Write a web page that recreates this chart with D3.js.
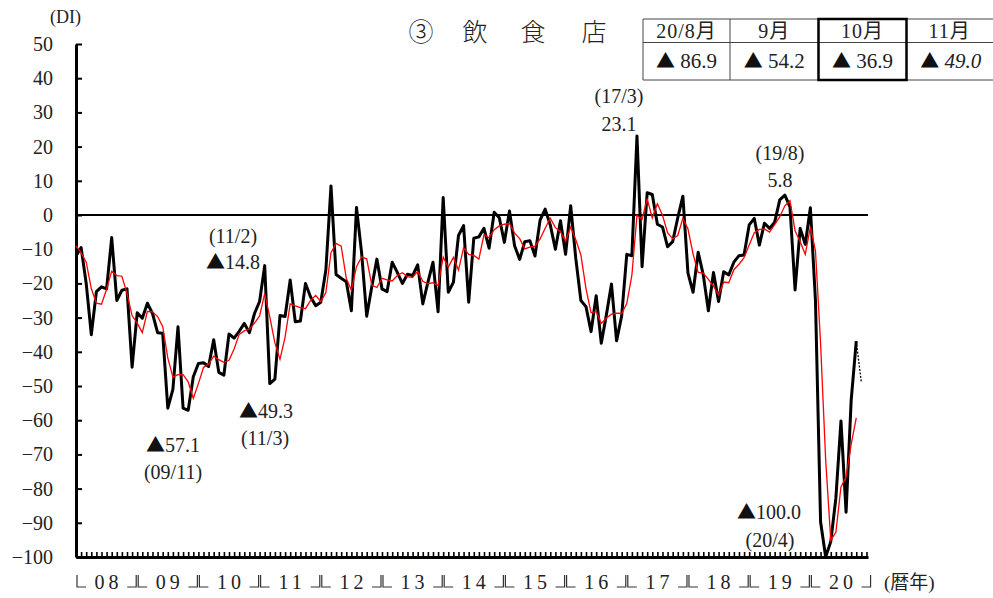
<!DOCTYPE html>
<html><head><meta charset="utf-8">
<script src="https://cdn.jsdelivr.net/npm/d3@7"></script>
<style>
html,body{margin:0;padding:0;background:#fff;}
svg{display:block;}
svg text{font-family:"Liberation Serif","Noto Sans CJK JP",serif;fill:#222;}
</style></head>
<body>
<svg id="chart" width="993" height="598"></svg>
<script>
// ---- data ----
const yearLabels = ["08","09","10","11","12","13","14","15","16","17","18","19","20"];
// monthly DI, 2008/1 .. 2020/10 (black line)
const diActual = [
 -12,-9.5,-20,-35,-22.4,-21,-21.6,-6.6,-25,-22,-21.6,-44.5,
 -28.6,-30.2,-25.8,-28.8,-34.4,-34.6,-56.5,-51,-32.7,-56.5,-57.1,-47.3,
 -43.4,-43.2,-44.3,-36.5,-46,-46.8,-34.8,-36,-34,-31.7,-34.4,-28.8,
 -25.3,-14.8,-49.3,-48,-29.4,-29.7,-19,-31.2,-31,-20,-24,-26.5,
 -25.5,-16,8.5,-17.4,-18.5,-19.5,-28,2.2,-11,-29.6,-21,-12.9,
 -21.6,-22.4,-13.8,-16.8,-20,-17.3,-17.7,-14.6,-26,-19.7,-13.8,-28.3,
 5.1,-22.6,-19.7,-6,-3.1,-25.5,-6.8,-6.4,-3.9,-9.7,0.8,-0.8,
 -8,1.2,-9,-13,-7.8,-7.5,-12,-1.5,1.7,-2.9,-10,-1.7,
 -11.5,2.7,-12.7,-25,-26.8,-34.1,-23.6,-37.5,-29.2,-20.2,-36.8,-29.5,
 -11.5,-11.9,23.1,-15.1,6.5,6,-2.7,-3.5,-9.3,-7.8,-0.8,5.5,
 -17,-22.6,-10.9,-17.5,-28,-16.8,-25.3,-16.6,-17.5,-13.8,-11.9,-11.7,
 -2.9,-1,-8.8,-2.4,-3.9,-2.1,4.4,5.8,2.4,-21.9,-3.9,-8.6,
 2.1,-25,-89.7,-100,-95.5,-82.8,-60.2,-86.9,-54.2,-36.9
];
// 3-month moving average (red line), 2008/1 .. 2020/10
const diMovingAvg = [
 -9,-11,-13.8,-21.5,-25.8,-26.1,-21.7,-16.4,-17.7,-17.9,-22.9,-29.4,
 -31.6,-34.4,-28.2,-28.3,-29.7,-32.6,-41.8,-47.4,-46.7,-46.7,-48.8,-53.6,
 -49.3,-44.6,-43.6,-41.3,-42.3,-43.1,-42.5,-39.2,-34.9,-33.9,-33.4,-31.6,
 -29.5,-23,-29.8,-37.4,-42.2,-35.7,-26,-26.6,-27.1,-27.4,-25,-23.5,
 -25.3,-22.7,-11,-8.3,-9.1,-18.5,-22,-15.1,-12.3,-12.8,-20.5,-21.2,
 -18.5,-19,-19.3,-17.7,-16.9,-18,-18.3,-16.5,-19.4,-20.1,-19.8,-20.6,
 -12.3,-15.3,-12.4,-16.1,-9.6,-11.5,-11.8,-12.9,-5.7,-6.7,-4.3,-3.2,
 -2.7,-2.5,-5.3,-6.9,-9.9,-9.4,-9.1,-7,-3.9,-0.9,-3.7,-4.9,
 -7.7,-3.5,-7.2,-11.7,-21.5,-28.6,-28.2,-31.7,-30.1,-29,-28.7,-28.8,
 -25.9,-17.6,-0.1,-1.3,4.8,-0.9,3.3,-0.1,-5.2,-6.9,-6,-1,
 -4.1,-11.4,-16.8,-17,-18.8,-20.8,-23.4,-19.6,-19.8,-16,-14.4,-12.5,
 -8.8,-5.2,-4.2,-4.1,-5,-2.8,-0.5,2.7,4.2,-4.6,-7.8,-11.5,
 -3.5,-10.5,-37.5,-71.6,-95.1,-92.8,-79.5,-76.6,-67.1,-59.3
];
const forecastValue = -49.0; // 2020/11 forecast
const yTicks = [50,40,30,20,10,0,-10,-20,-30,-40,-50,-60,-70,-80,-90,-100];
const tableHeaders = ["20/8月","9月","10月","11月"];
const tableValues = ["86.9","54.2","36.9","49.0"];

// ---- drawing ----
const SERIF = '"Liberation Serif","Noto Sans CJK JP",serif';
const CJK = '"Noto Sans CJK JP",sans-serif';
const svg = d3.select("#chart");
const nMonths = yearLabels.length * 12;
const x = d3.scaleLinear().domain([0, nMonths - 0.7]).range([76, 868]);
const y = d3.scaleLinear().domain([-100, 50]).range([557, 44]);

// y axis
const yAxis = d3.axisLeft(y).tickValues(yTicks).tickSizeInner(-6).tickSizeOuter(0).tickPadding(23)
  .tickFormat(d => d < 0 ? "\u2212" + Math.abs(d) : d);
const gy = svg.append("g").attr("transform", "translate(76,0)").call(yAxis);
gy.attr("font-family", SERIF);
gy.select(".domain").attr("stroke", "#000").attr("stroke-width", 3);
gy.selectAll(".tick line").attr("stroke", "#000").attr("stroke-width", 2);
gy.selectAll(".tick text").attr("font-size", 20).attr("fill", "#222").style("font-family", SERIF);

// x axis (monthly ticks upward)
const xAxis = d3.axisBottom(x).tickValues(d3.range(0, nMonths)).tickSizeInner(-5).tickSizeOuter(0).tickFormat("");
const gx = svg.append("g").attr("transform", `translate(0,${y(-100)})`).call(xAxis);
gx.select(".domain").attr("stroke", "#000").attr("stroke-width", 3);
gx.selectAll(".tick line").attr("stroke", "#000").attr("stroke-width", 1.6);

// zero line
svg.append("line").attr("x1", x(0)).attr("x2", 868).attr("y1", y(0)).attr("y2", y(0))
  .attr("stroke", "#000").attr("stroke-width", 2.2);

// year labels with bracket marks
const gl = svg.append("g");
yearLabels.forEach((lab, k) => {
  const x0 = x(k * 12), x1 = x((k + 1) * 12);
  gl.append("path").attr("d", `M${x0 + 1},575V587H${x0 + 10}`).attr("fill", "none").attr("stroke", "#333").attr("stroke-width", 1.2);
  gl.append("path").attr("d", `M${x1 - 1},575V587H${x1 - 10}`).attr("fill", "none").attr("stroke", "#333").attr("stroke-width", 1.2);
  gl.append("text").attr("x", (x0 + x1) / 2 + 2).attr("y", 589).attr("font-size", 20).attr("text-anchor", "middle")
    .attr("letter-spacing", 4).style("font-family", SERIF).text(lab);
});
svg.append("text").attr("x", 884).attr("y", 589).attr("font-size", 19).style("font-family", SERIF).text("(暦年)");
svg.append("text").attr("x", 50).attr("y", 23).attr("font-size", 18).style("font-family", SERIF).text("(DI)");

// lines
const line = d3.line().x((d, i) => x(i)).y(d => y(d));
svg.append("path").datum(diActual).attr("d", line).attr("fill", "none")
  .attr("stroke", "#000").attr("stroke-width", 3).attr("stroke-linejoin", "round");
svg.append("path").datum(diMovingAvg).attr("d", line).attr("fill", "none")
  .attr("stroke", "#ff0000").attr("stroke-width", 1.3);
const last = diActual.length - 1;
svg.append("line").attr("x1", x(last)).attr("y1", y(diActual[last]))
  .attr("x2", x(last + 1)).attr("y2", y(forecastValue))
  .attr("stroke", "#000").attr("stroke-width", 1.3).attr("stroke-dasharray", "2,1.5");

// annotations: [triangle?, text, x, baseline]
const ann = [
  [false, "(11/2)", 233, 243], [true, "14.8", 233, 269],
  [true, "49.3", 266, 418], [false, "(11/3)", 265, 445],
  [true, "57.1", 173, 452], [false, "(09/11)", 173, 479],
  [false, "(17/3)", 619, 103], [false, "23.1", 619, 131],
  [false, "(19/8)", 780, 160], [false, "5.8", 780, 187],
  [true, "100.0", 769, 519], [false, "(20/4)", 770, 547]
];
ann.forEach(a => {
  const t = svg.append("text").attr("x", a[2]).attr("y", a[3]).attr("text-anchor", "middle")
    .attr("font-size", 20).attr("fill", "#333").style("font-family", SERIF);
  if (a[0]) t.append("tspan").style("font-family", CJK).attr("font-size", 19).attr("fill", "#111").text("▲");
  t.append("tspan").text(a[1]);
});

// title
const title = ["③", "飲", "食", "店"];
const tx = [421, 475, 533, 594];
title.forEach((t, i) => {
  svg.append("text").attr("x", tx[i]).attr("y", 41).attr("text-anchor", "middle").attr("font-size", 25)
    .style("font-family", CJK).attr("font-weight", 300).attr("fill", "#222").text(t);
});

// table
const colX = [643, 730, 818.5, 906.5, 995];
const rowY = [19, 42.5, 80];
const gt = svg.append("g");
rowY.forEach(ry => {
  gt.append("line").attr("x1", colX[0]).attr("x2", 993).attr("y1", ry).attr("y2", ry).attr("stroke", "#444").attr("stroke-width", 1);
});
colX.slice(0, 4).forEach(cx => {
  gt.append("line").attr("x1", cx).attr("x2", cx).attr("y1", rowY[0]).attr("y2", rowY[2]).attr("stroke", "#444").attr("stroke-width", 1);
});
gt.append("rect").attr("x", colX[2]).attr("y", rowY[0]).attr("width", colX[3] - colX[2]).attr("height", rowY[2] - rowY[0])
  .attr("fill", "none").attr("stroke", "#000").attr("stroke-width", 2.5);
tableHeaders.forEach((h, i) => {
  gt.append("text").attr("x", (colX[i] + colX[i + 1]) / 2 - (i === 3 ? 1 : 0)).attr("y", 38).attr("text-anchor", "middle")
    .attr("font-size", 20).attr("letter-spacing", 1).style("font-family", SERIF).text(h);
  const t = gt.append("text").attr("x", (colX[i] + colX[i + 1]) / 2).attr("y", 68).attr("text-anchor", "middle")
    .attr("font-size", 21).style("font-family", SERIF);
  t.append("tspan").style("font-family", CJK).attr("font-size", 19).attr("fill", "#111").text("▲");
  t.append("tspan").attr("font-style", i === 3 ? "italic" : "normal").text("\u00a0" + tableValues[i]);
});
</script>
</body></html>
